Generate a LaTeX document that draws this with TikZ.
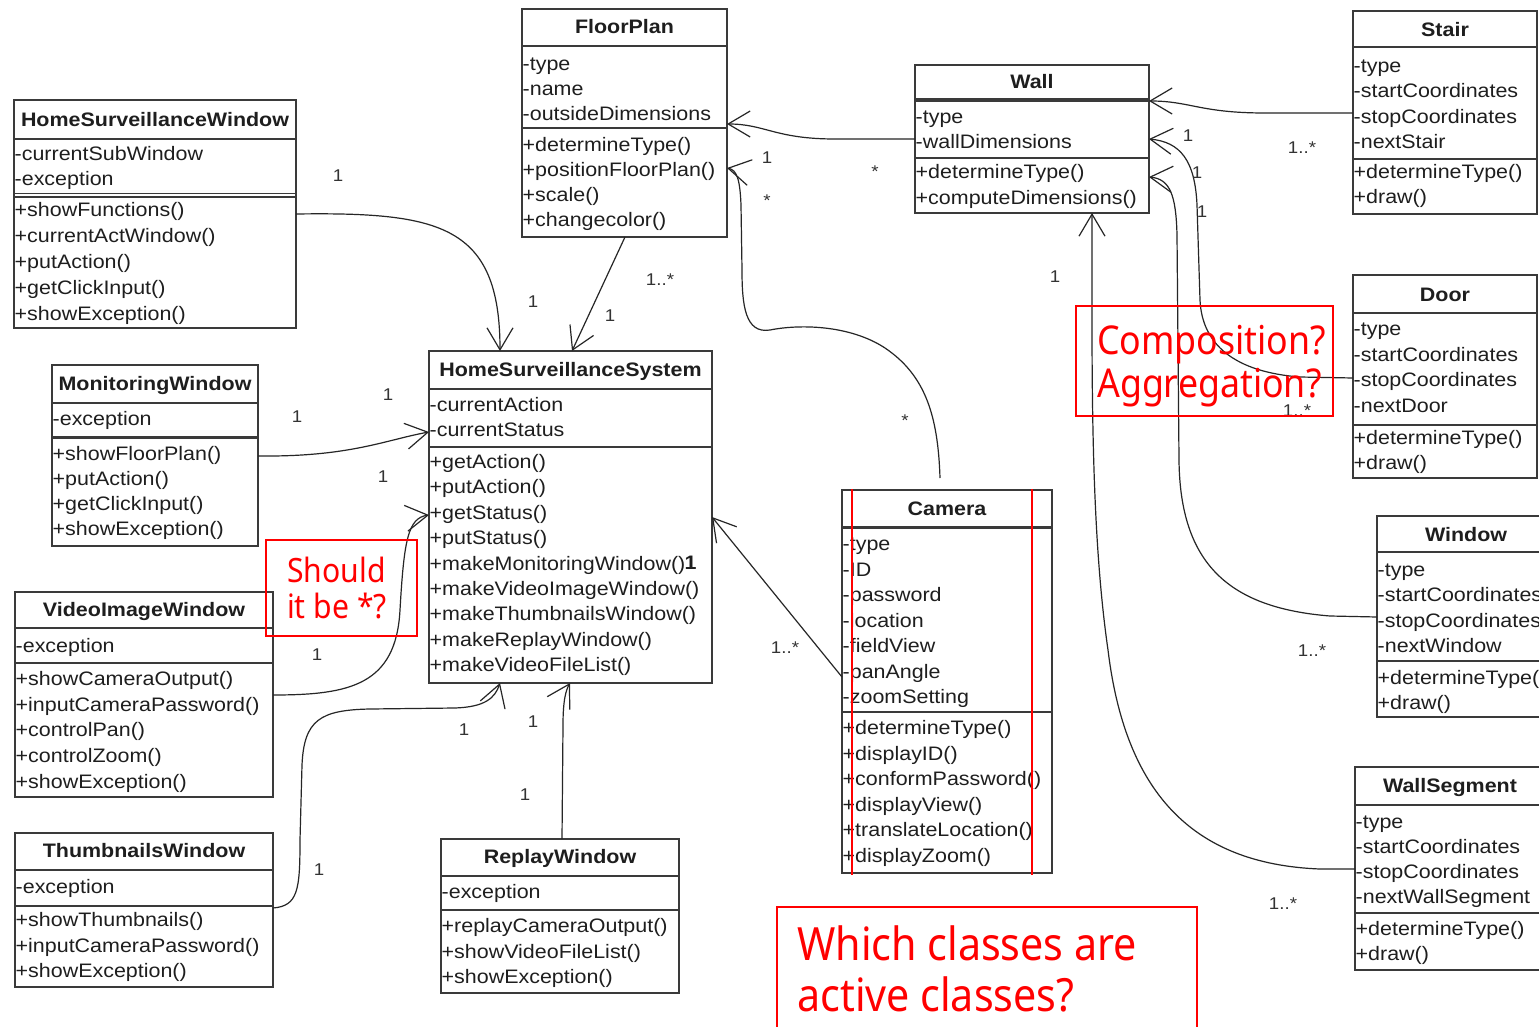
\documentclass[tikz,border=0pt]{standalone}
\usepackage{fontspec}
\usetikzlibrary{arrows.meta,calc}
\newfontfamily\umlfont{Liberation Sans}[FakeStretch=1.1]
\newfontfamily\notefont{Noto Sans}[FakeStretch=0.9]
\definecolor{boxline}{HTML}{3A3A3A}
\definecolor{ink}{HTML}{1E1E1E}
\definecolor{lblc}{HTML}{333333}
\definecolor{note}{HTML}{FF0000}

% class frame: name, left, top, right, bottom
\newcommand\umlclass[5]{%
  \node[classframe, anchor=north west, minimum width={(#4)-(#2)},
        minimum height={(#5)-(#3)}] (#1) at (#2,#3) {};}
% compartment separator: [width] name, y
\newcommand\umlsep[3][1.8pt]{%
  \draw[draw=boxline, line width=#1] (#2.west |- 0,#3) -- (#2.east |- 0,#3);}
% class title: name, y, text
\newcommand\umltitle[3]{\node[umltitle] (#1-t) at (#1.center |- 0,#2) {#3};}
% rows of members: name, tag, first y, step, list
\newcommand\umlrows[5]{%
  \foreach \txt [count=\k from 0] in {#5}{%
    \pgfmathsetmacro\yy{#3+\k*#4}%
    \node[member] (#1-#2\k) at (#1.west |- 0,\yy) {\txt};}}

\begin{document}
\begin{tikzpicture}[x=1pt,y=-1pt,
  classframe/.style={draw=boxline, line width=1.6pt, inner sep=0pt, outer sep=0pt},
  umltitle/.style={font=\umlfont\bfseries\fontsize{19.5}{23}\selectfont, text=ink,
                   inner sep=0pt, text height=14pt, text depth=4pt, yshift=-2.5pt},
  member/.style={font=\umlfont\fontsize{19.5}{23}\selectfont, text=ink, anchor=west,
                 inner xsep=0.5pt, inner ysep=0pt, text height=14pt, text depth=4pt,
                 yshift=-2.5pt},
  lbl/.style={font=\umlfont\fontsize{17}{20}\selectfont, text=lblc, inner sep=0pt},
  assoc/.style={draw=black!85, line width=1.2pt,
                -{Straight Barb[length=22pt,width=26pt]}},
  notebox/.style={draw=note, line width=2.2pt, anchor=north west, inner sep=0pt, outer sep=0pt},
  notetext/.style={text=note, anchor=base west, inner sep=0pt},
]
\fill[white] (0,0) rectangle (1539,1027);
\useasboundingbox (0,0) rectangle (1539,1027);
\clip (0,0) rectangle (1539,1027);

% ---------- classes ----------
\umlclass{hsw}{14}{100}{296}{328}
\umltitle{hsw}{119}{HomeSurveillanceWindow}
\umlsep{hsw}{139}
\umlsep[1.4pt]{hsw}{193.5}\umlsep[1.4pt]{hsw}{197}
\umlrows{hsw}{a}{153}{25.5}{-currentSubWindow,-exception}
\umlrows{hsw}{m}{209}{26}{+showFunctions(),+currentActWindow(),+putAction(),+getClickInput(),+showException()}

\umlclass{fp}{522}{9}{727}{237}
\umltitle{fp}{26}{FloorPlan}
\umlsep{fp}{46}\umlsep{fp}{128}
\umlrows{fp}{a}{63}{25}{-type,-name,-outsideDimensions}
\umlrows{fp}{m}{144}{25}{+determineType(),+positionFloorPlan(),+scale(),+changecolor()}

\umlclass{wall}{915}{65}{1149}{213}
\umltitle{wall}{81}{Wall}
\umlsep[3.8pt]{wall}{100}\umlsep{wall}{158}
\umlrows{wall}{a}{116}{25}{-type,-wallDimensions}
\umlrows{wall}{m}{171}{26}{+determineType(),+computeDimensions()}

\umlclass{stair}{1353}{11}{1537}{214}
\umltitle{stair}{29}{Stair}
\umlsep[2.5pt]{stair}{47}\umlsep{stair}{159}
\umlrows{stair}{a}{65}{25.3}{-type,-startCoordinates,-stopCoordinates,-nextStair}
\umlrows{stair}{m}{171}{25}{+determineType(),+draw()}

\umlclass{mw}{52}{365}{258}{546}
\umltitle{mw}{383}{MonitoringWindow}
\umlsep{mw}{403}\umlsep[3pt]{mw}{437}
\umlrows{mw}{a}{418}{25}{-exception}
\umlrows{mw}{m}{453}{25}{+showFloorPlan(),+putAction(),+getClickInput(),+showException()}

\umlclass{hss}{429}{351}{712}{683}
\umltitle{hss}{369}{HomeSurveillanceSystem}
\umlsep{hss}{389}\umlsep{hss}{447}
\umlrows{hss}{a}{404}{25}{-currentAction,-currentStatus}
\umlrows{hss}{m}{461}{25.4}{+getAction(),+putAction(),+getStatus(),+putStatus(),+makeMonitoringWindow(),+makeVideoImageWindow(),+makeThumbnailsWindow(),+makeReplayWindow(),+makeVideoFileList()}

\umlclass{viw}{15}{592}{273}{797}
\umltitle{viw}{609}{VideoImageWindow}
\umlsep[2.5pt]{viw}{628}\umlsep[2.5pt]{viw}{663}
\umlrows{viw}{a}{645}{25}{-exception}
\umlrows{viw}{m}{678}{25.7}{+showCameraOutput(),+inputCameraPassword(),+controlPan(),+controlZoom(),+showException()}

\umlclass{tw}{15}{833}{273}{987}
\umltitle{tw}{850}{ThumbnailsWindow}
\umlsep{tw}{870}\umlsep{tw}{906}
\umlrows{tw}{a}{886}{25}{-exception}
\umlrows{tw}{m}{919}{25.5}{+showThumbnails(),+inputCameraPassword(),+showException()}

\umlclass{rw}{441}{839}{679}{993}
\umltitle{rw}{856}{ReplayWindow}
\umlsep{rw}{876}\umlsep{rw}{910}
\umlrows{rw}{a}{891}{25}{-exception}
\umlrows{rw}{m}{925}{25.5}{+replayCameraOutput(),+showVideoFileList(),+showException()}

\umlclass{cam}{842}{490}{1052}{873}
\umltitle{cam}{508}{Camera}
\umlsep[3pt]{cam}{527}\umlsep[2.5pt]{cam}{712}
\umlrows{cam}{a}{543}{25.5}{-type,-ID,-password,-location,-fieldView,-panAngle,-zoomSetting}
\umlrows{cam}{m}{727}{25.6}{+determineType(),+displayID(),+conformPassword(),+displayView(),+translateLocation(),+displayZoom()}

\umlclass{door}{1353}{275}{1537}{478}
\umltitle{door}{294}{Door}
\umlsep{door}{313}\umlsep[2.5pt]{door}{425}
\umlrows{door}{a}{328}{25.5}{-type,-startCoordinates,-stopCoordinates,-nextDoor}
\umlrows{door}{m}{437}{25}{+determineType(),+draw()}

\umlclass{win}{1377}{516}{1555}{717}
\umltitle{win}{534}{Window}
\umlsep{win}{552}\umlsep[2.5pt]{win}{661}
\umlrows{win}{a}{569}{25.3}{-type,-startCoordinates,-stopCoordinates,-nextWindow}
\umlrows{win}{m}{677}{25}{+determineType(),+draw()}

\umlclass{ws}{1355}{767}{1545}{970}
\umltitle{ws}{785}{WallSegment}
\umlsep{ws}{805}\umlsep{ws}{913}
\umlrows{ws}{a}{821}{25}{-type,-startCoordinates,-stopCoordinates,-nextWallSegment}
\umlrows{ws}{m}{928}{25}{+determineType(),+draw()}

% ---------- associations ----------
\draw[assoc] ([yshift=-114pt]hsw.north east) .. controls (440,212) and (500,225) .. ([xshift=71pt]hss.north west);
\draw[assoc] ([xshift=103pt]fp.south west) -- ([xshift=143pt]hss.north west);
\draw[assoc] ([yshift=-91pt]mw.north east) .. controls (350,457) and (385,440) .. ([yshift=-81pt]hss.north west);
\draw[assoc] ([yshift=-103pt]viw.north east) .. controls (350,695) and (396,685) .. (400,610)
             .. controls (404,540) and (408,518) .. ([yshift=-164pt]hss.north west);
\draw[assoc] ([yshift=-75pt]tw.north east) .. controls (298,906) and (300,890) .. (300,840) -- (302,765)
             .. controls (304,720) and (320,710) .. (370,709) -- (455,708)
             .. controls (485,707) and (495,698) .. ([xshift=71pt]hss.south west);
\draw[assoc] ([xshift=121pt]rw.north west) -- (563,725) .. controls (563,700) and (566,690) .. ([xshift=141pt]hss.south west);
\draw[assoc] ([yshift=-187pt]cam.north west) -- ([yshift=-166pt]hss.north east);
\draw[assoc] ([xshift=98pt,yshift=12pt]cam.north west) .. controls (938,415) and (925,375) .. (885,348)
             .. controls (850,325) and (800,324) .. (770,330)
             .. controls (745,334) and (742,305) .. (742,270) -- (741,205)
             .. controls (740,180) and (737,170) .. ([yshift=-159pt]fp.north east);
\draw[assoc] ([yshift=-74pt]wall.north west) -- (835,139) .. controls (775,139) and (765,124) .. ([yshift=-115pt]fp.north east);
\draw[assoc] ([yshift=-102pt]stair.north west) -- (1265,113) .. controls (1200,113) and (1190,101) .. ([yshift=-36pt]wall.north east);
\draw[assoc] ([yshift=-103pt]door.north west) -- (1300,377) .. controls (1235,372) and (1202,345) .. (1200,300)
             -- (1197,205) .. controls (1195,160) and (1180,142) .. ([yshift=-74pt]wall.north east);
\draw[assoc] ([yshift=-101pt]win.north west) -- (1330,616) .. controls (1230,608) and (1180,565) .. (1179,460)
             -- (1177,235) .. controls (1176,195) and (1170,179) .. ([yshift=-112pt]wall.north east);
\draw[assoc] ([yshift=-102pt]ws.north west) -- (1320,869) .. controls (1190,864) and (1125,790) .. (1108,650)
             .. controls (1095,560) and (1092,450) .. (1092,320) -- ([xshift=177pt]wall.south west);

% ---------- multiplicities ----------
\node[lbl] (l1)  at (338,176) {1};
\node[lbl] (l2)  at (533,302) {1};
\node[lbl] (l3)  at (660,280) {1..*};
\node[lbl] (l4)  at (610,316) {1};
\node[lbl] (l5)  at (297,417) {1};
\node[lbl] (l6)  at (388,395) {1};
\node[lbl] (l7)  at (317,655) {1};
\node[lbl] (l8)  at (383,477) {1};
\node[lbl] (l9)  at (319,870) {1};
\node[lbl] (l10) at (464,730) {1};
\node[lbl] (l11) at (533,722) {1};
\node[lbl] (l12) at (525,795) {1};
\node[lbl] (l13) at (785,648) {1..*};
\node[member, font=\umlfont\bfseries\fontsize{19.5}{23}\selectfont] (l14) at (684,562) {1};
\node[lbl] (l15) at (905,421) {*};
\node[lbl] (l16) at (767,201) {*};
\node[lbl] (l17) at (767,158) {1};
\node[lbl] (l18) at (875,172) {*};
\node[lbl] (l19) at (1302,148) {1..*};
\node[lbl] (l20) at (1188,136) {1};
\node[lbl] (l21) at (1197,173) {1};
\node[lbl] (l22) at (1202,212) {1};
\node[lbl] (l23) at (1055,277) {1};
\node[lbl] (l24) at (1297,411) {1..*};
\node[lbl] (l25) at (1312,651) {1..*};
\node[lbl] (l26) at (1283,904) {1..*};

% ---------- annotations ----------
\draw[draw=note, line width=2pt] (852,489) -- (852,875);
\draw[draw=note, line width=2pt] (1032,489) -- (1032,875);

\node[notebox, minimum width=151pt, minimum height=96pt] (q1) at (266,540) {};
\node[notetext, font=\notefont\fontsize{33.5}{37}\selectfont] (q1a) at (287,582) {Should};
\node[notetext, font=\notefont\fontsize{33.5}{37}\selectfont] (q1b) at (287,618) {it be *?};

\node[notebox, minimum width=257pt, minimum height=110pt] (q2) at (1076,306) {};
\node[notetext, font=\notefont\fontsize{39.7}{45}\selectfont] (q2a) at (1097,354) {Composition?};
\node[notetext, font=\notefont\fontsize{39.7}{45}\selectfont] (q2b) at (1097,397) {Aggregation?};

\node[notebox, minimum width=420pt, minimum height=140pt] (q3) at (777,907) {};
\node[notetext, font=\notefont\fontsize{45.8}{51}\selectfont] (q3a) at (797,960) {Which classes are};
\node[notetext, font=\notefont\fontsize{45.8}{51}\selectfont] (q3b) at (797,1011) {active classes?};
\end{tikzpicture}
\end{document}
